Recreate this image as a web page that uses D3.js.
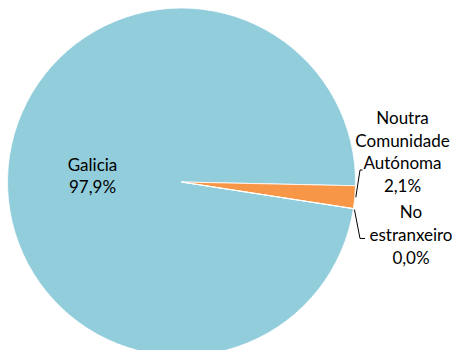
<!DOCTYPE html>
<html><head><meta charset="utf-8">
<script src="https://cdn.jsdelivr.net/npm/d3@7"></script>
<style>html,body{margin:0;padding:0;background:#fff;}svg{display:block;}</style>
</head><body>
<svg id="chart" width="457" height="350"></svg>
<script>
const categories = ["Galicia", "Noutra Comunidade Autónoma", "No estranxeiro"];
const values = [97.9, 2.1, 0.0];
const labelLines = [["Galicia", "97,9%"], ["Noutra", "Comunidade", "Autónoma", "2,1%"], ["No", "estranxeiro", "0,0%"]];
const colors = ["#92CDDC", "#F79646", "#4BACC6"];

const svg = d3.select("#chart");
const cx = 181.5, cy = 182, r = 174;
const startDeg = 98.8;
const pie = d3.pie().sort(null).value(d => d)
  .startAngle(startDeg * Math.PI / 180)
  .endAngle((startDeg + 360) * Math.PI / 180);
const arcs = pie(values);
const arc = d3.arc().innerRadius(0).outerRadius(r);
const g = svg.append("g").attr("transform", `translate(${cx},${cy})`);
g.selectAll("path").data(arcs).enter().append("path")
  .attr("d", arc).attr("fill", (d, i) => colors[i])
  .attr("stroke", "#fff").attr("stroke-width", 0.8);

const font = "Lato, 'Open Sans', sans-serif";
const fs = 17;
const lh = 22.7;
// label anchor positions (center x, first baseline)
const labelPos = [[92.5, 170.5], [402.5, 124], [411, 218.3]];
labelLines.forEach((lines, i) => {
  const t = svg.append("text").attr("font-family", font).attr("font-size", fs)
    .attr("fill", "#000").attr("text-anchor", "middle");
  lines.forEach((ln, j) => {
    t.append("tspan").attr("x", labelPos[i][0]).attr("y", labelPos[i][1] + j * lh).text(ln);
  });
});

// leader lines
function edgePoint(angle) {
  return [cx + r * Math.sin(angle), cy - r * Math.cos(angle)];
}
const a1 = arcs[1];
const p1 = edgePoint((a1.startAngle + a1.endAngle) / 2);
const p2 = edgePoint(arcs[2].startAngle);
const line = d3.line();
svg.append("path").attr("d", line([[p1[0] + 1, p1[1]], [360, 170], [362.5, 170]]))
  .attr("fill", "none").attr("stroke", "#000").attr("stroke-width", 1);
svg.append("path").attr("d", line([[p2[0] + 1, p2[1] + 1], [360, 238.5], [365, 238.5]]))
  .attr("fill", "none").attr("stroke", "#000").attr("stroke-width", 1);
</script>
</body></html>
